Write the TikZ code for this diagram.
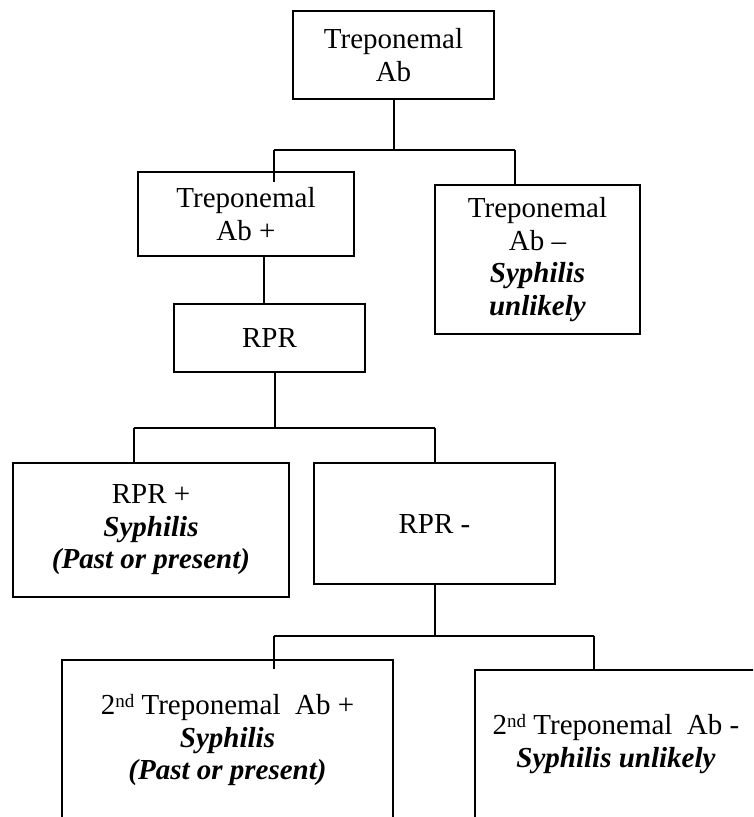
\documentclass[tikz,border=0pt]{standalone}
\usepackage{fontspec}
\setmainfont{Liberation Serif}
\begin{document}
\begin{tikzpicture}[x=1pt,y=-1pt,
  box/.style={draw=black,line width=1.8pt,align=center,inner sep=0pt,rectangle},
  conn/.style={draw=black,line width=1.8pt},
  txt/.style={font=\fontsize{29}{32.5}\selectfont},
  sup/.style={}]
\fill[white] (0,0) rectangle (753,817);
\useasboundingbox (0,0) rectangle (753,817);
\clip (0,0) rectangle (753,817);
% boxes
\node[box,txt,minimum width=201pt,minimum height=88pt] (top) at (393.5,55) {Treponemal\\Ab};
\node[box,txt,minimum width=216pt,minimum height=84pt] (tpl) at (246,214) {Treponemal\\Ab +};
\node[box,txt,minimum width=205pt,minimum height=149pt] (tpr) at (537.5,259.5) {Treponemal\\Ab --\\\textbf{\textit{Syphilis}}\\\textbf{\textit{unlikely}}};
\node[box,txt,minimum width=191pt,minimum height=68pt] (rpr) at (269.5,338) {RPR};
\node[box,txt,minimum width=276pt,minimum height=134pt] (rprp) at (151,530) {RPR +\\\textbf{\textit{Syphilis}}\\\textbf{\textit{(Past or present)}}};
\node[box,txt,minimum width=241pt,minimum height=121pt] (rprm) at (434.5,523.5) {RPR -};
\node[box,txt,minimum width=331pt,minimum height=160pt] (bl) at (227.5,740) {2\raisebox{0.55ex}{\fontsize{19}{19}\selectfont nd} Treponemal~~Ab +\\\textbf{\textit{Syphilis}}\\\textbf{\textit{(Past or present)}}};
\node[box,txt,minimum width=282pt,minimum height=148pt] (br) at (616,744) {2\raisebox{0.55ex}{\fontsize{19}{19}\selectfont nd} Treponemal~~Ab -\\\textbf{\textit{Syphilis unlikely}}};
% junction coordinates
\coordinate (j1) at (394,150);
\coordinate (j1l) at (274,150);
\coordinate (j1r) at (515,150);
\coordinate (j2) at (275,428);
\coordinate (j2l) at (134,428);
\coordinate (j2r) at (435,428);
\coordinate (j3) at (435,636);
\coordinate (j3l) at (274,636);
\coordinate (j3r) at (594,636);
\coordinate (s1) at (j1l |- tpl.north);
\coordinate (s2) at (j1r |- tpr.north);
\coordinate (s3) at (j2l |- rprp.north);
\coordinate (s4) at (j2r |- rprm.north);
\coordinate (s5) at (j3l |- bl.north);
\coordinate (s6) at (j3r |- br.north);
\coordinate (r1) at (264,0);
% connectors
\draw[conn] (j1 |- top.south) -- (j1);
\draw[conn] (j1l) -- (j1r);
\draw[conn] (j1l) -- ([yshift=-11pt]s1);
\draw[conn] (j1r) -- (s2);
\draw[conn] (r1 |- tpl.south) -- (r1 |- rpr.north);
\draw[conn] (j2 |- rpr.south) -- (j2);
\draw[conn] (j2l) -- (j2r);
\draw[conn] (j2l) -- (s3);
\draw[conn] (j2r) -- (s4);
\draw[conn] (j3 |- rprm.south) -- (j3);
\draw[conn] (j3l) -- (j3r);
\draw[conn] (j3l) -- ([yshift=-10pt]s5);
\draw[conn] (j3r) -- (s6);
\end{tikzpicture}
\end{document}
